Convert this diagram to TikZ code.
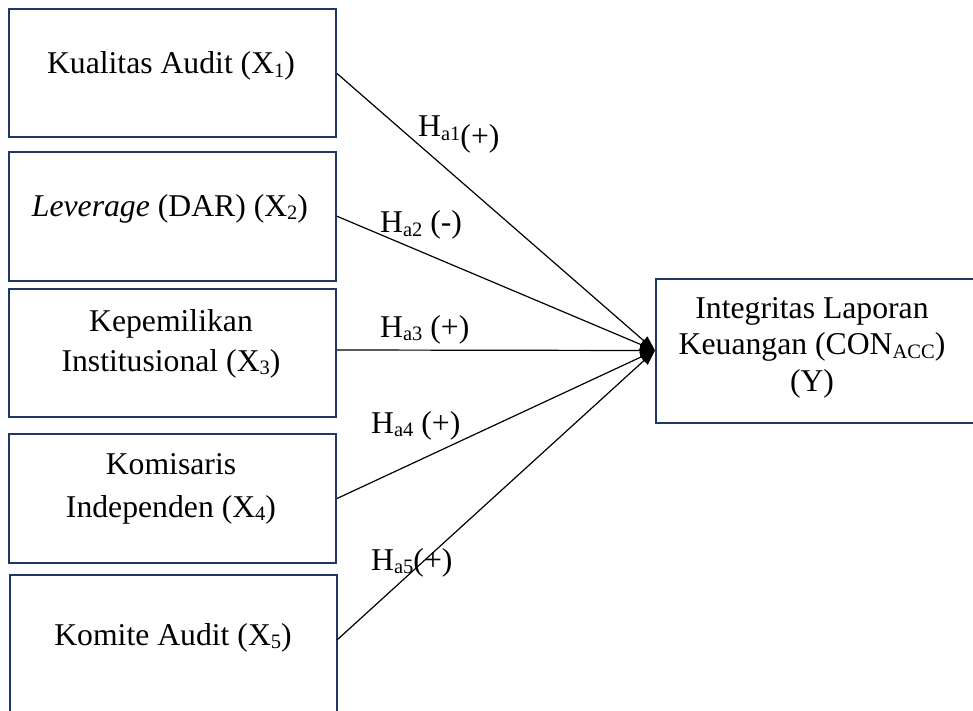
\documentclass[tikz,border=0pt]{standalone}
\usepackage{fontspec}
\setmainfont{Liberation Serif}
\usetikzlibrary{arrows.meta}
\definecolor{boxblue}{RGB}{31,56,100}
\newcommand\sbs[1]{\raisebox{-0.12em}{\fontsize{20.5}{20}\selectfont #1}}
\begin{document}
\begin{tikzpicture}[x=1pt,y=-1pt,
  box/.style={draw=boxblue, line width=2pt, fill=white, inner sep=0pt, anchor=north west},
  txt/.style={font=\fontsize{31.7}{36.5}\selectfont, align=center, inner sep=0pt, anchor=base},
  lbl/.style={font=\fontsize{31.7}{36.5}\selectfont, inner sep=0pt, anchor=base west},
  conn/.style={draw=black, line width=1.2pt, -{Triangle[length=15pt,width=11pt]}}]
\useasboundingbox (0,0) rectangle (973,711);
\begin{scope}
\clip (0,0) rectangle (973,711);
\node[box, minimum width=327.5pt, minimum height=128pt] (b1) at (7.5,8.5) {};
\node[box, minimum width=327.5pt, minimum height=128.5pt] (b2) at (7.5,151) {};
\node[box, minimum width=327.5pt, minimum height=128.5pt] (b3) at (7.5,287.5) {};
\node[box, minimum width=327.5pt, minimum height=129pt] (b4) at (7.5,433) {};
\node[box, minimum width=327.5pt, minimum height=160pt] (b5) at (8.5,573.5) {};
\node[box, minimum width=340pt, minimum height=144pt] (y) at (655,277.5) {};
\end{scope}

\node[txt] (t1) at (171,74) {Kualitas Audit (X\sbs{1})};
\node[txt] (t2) at (170,216) {\textit{Leverage} (DAR) (X\sbs{2})};
\node[txt, font=\fontsize{31.7}{40}\selectfont] (t3) at (171,371) {Kepemilikan\\Institusional (X\sbs{3})};
\node[txt, font=\fontsize{31.7}{43}\selectfont] (t4) at (171,517) {Komisaris\\Independen (X\sbs{4})};
\node[txt] (t5) at (173,645) {Komite Audit (X\sbs{5})};
\node[txt] (ty) at (812,391) {Integritas Laporan\\Keuangan (CON\sbs{ACC})\\(Y)};

\coordinate (s5) at (337,640);
\coordinate (s3) at (337,350);
\draw[conn] (b1.east) -- (y.west);
\draw[conn] (b2.east) -- (y.west);
\draw[conn] (s3) -- (y.west);
\draw[conn] (b4.east) -- (y.west);
\draw[conn] (s5) -- (y.west);

\node[lbl] (h1) at (418,137) {H\sbs{a1}\raisebox{-0.3em}{(+)}};
\node[lbl] (h2) at (380,233) {H\sbs{a2} (-)};
\node[lbl] (h3) at (380,337) {H\sbs{a3} (+)};
\node[lbl] (h4) at (371,433) {H\sbs{a4} (+)};
\node[lbl] (h5) at (371,570) {H\sbs{a5}(+)};
\end{tikzpicture}
\end{document}
